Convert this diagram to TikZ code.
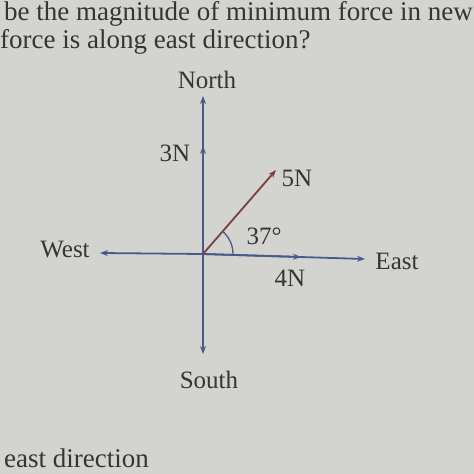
\documentclass[tikz,border=0pt]{standalone}
\usepackage{fontspec}
\setmainfont{Liberation Serif}
\usetikzlibrary{arrows.meta}
\definecolor{paper}{HTML}{D3D4CF}
\definecolor{ink}{HTML}{353535}
\definecolor{axiscol}{HTML}{4A5A88}
\definecolor{forcecol}{HTML}{7A3E3E}
\begin{document}
\begin{tikzpicture}[x=1pt,y=-1pt,
  tipa/.style={-{Stealth[length=8pt,width=6pt]}},
  axisline/.style={axiscol,line width=1.8pt},
  lbl/.style={text=ink,font=\fontsize{25}{28}\selectfont,inner sep=0pt},
  bodytext/.style={text=ink,font=\fontsize{27}{30}\selectfont,inner sep=0pt}]
\fill[paper] (0,0) rectangle (474,474);
\useasboundingbox (0,0) rectangle (474,474);
% body text of the page
\node[bodytext,anchor=base east] (t1) at (473,20) {be the magnitude of minimum force in new};
\node[bodytext,anchor=base west] (t2) at (0,48) {force is along east direction?};
\node[bodytext,anchor=base west] (t3) at (4,467) {east direction};
% axes
\coordinate (O) at (203,254);
\coordinate (N) at (203,96);
\coordinate (S) at (203,354);
\coordinate (W) at (100,253);
\coordinate (E) at (365,259);
\coordinate (M3) at (203,146);
\coordinate (M4) at (301,257);
\coordinate (F) at (276,170);
\draw[axisline,tipa] (O) -- (N);
\draw[axisline,tipa] (O) -- (M3);
\draw[axisline,tipa] (O) -- (S);
\draw[axisline,tipa] (O) -- (W);
\draw[axisline,tipa] (O) -- (E);
\draw[axisline,tipa] (O) -- (M4);
\draw[forcecol,line width=1.8pt,tipa] (O) -- (F);
\draw[axiscol,line width=1.3pt] ([xshift=30pt]O) arc[start angle=0,end angle=50,radius=30pt];
% labels
\node[lbl] (ln) at (207,80) {North};
\node[lbl] (ls) at (209,380) {South};
\node[lbl] (lw) at (65,250) {West};
\node[lbl] (le) at (397,261) {East};
\node[lbl] (l3) at (175,153) {3N};
\node[lbl] (l5) at (297,178) {5N};
\node[lbl] (la) at (264,236) {37°};
\node[lbl] (l4) at (290,278) {4N};
\end{tikzpicture}
\end{document}
